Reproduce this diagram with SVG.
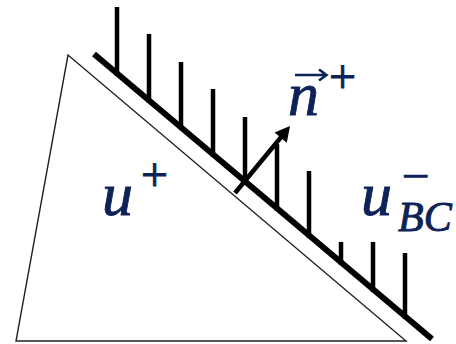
<svg xmlns="http://www.w3.org/2000/svg" width="456" height="344" viewBox="0 0 456 344">
<style>
.tri{fill:#fff;stroke:#222;stroke-width:1.4;stroke-linejoin:miter}
.bc{stroke:#000;stroke-width:6;stroke-linecap:butt}
.tk{stroke:#000;stroke-width:4.5}
.lbl{font-family:"Liberation Serif","Times New Roman",serif;fill:#0d2257;stroke:#0d2257;stroke-width:0.9}
.it{font-style:italic}
.acc{fill:none;stroke:#0d2257;stroke-width:2.6;stroke-linecap:butt;stroke-linejoin:miter}
</style>
<rect width="456" height="344" fill="#fff"/>
<g id="triangle"><polygon class="tri" points="68,55 16,341 406,341"/></g>
<g id="boundary">
<line class="bc" x1="94" y1="54" x2="432" y2="339"/>
<line class="tk" x1="117" y1="7" x2="117" y2="76"/>
<line class="tk" x1="149" y1="34" x2="149" y2="103"/>
<line class="tk" x1="181" y1="62" x2="181" y2="130"/>
<line class="tk" x1="213" y1="89" x2="213" y2="157"/>
<line class="tk" x1="245" y1="117" x2="245" y2="184"/>
<line class="tk" x1="277" y1="144" x2="277" y2="211"/>
<line class="tk" x1="309" y1="171" x2="309" y2="238"/>
<line class="tk" x1="341" y1="198" x2="341" y2="265"/>
<line class="tk" x1="373" y1="226" x2="373" y2="292"/>
<line class="tk" x1="405" y1="253" x2="405" y2="319"/>
</g>
<g id="normal">
<line x1="235" y1="193" x2="282" y2="136" stroke="#000" stroke-width="4.5"/>
<polygon points="290,126 274.5,132.6 286.8,142.7" fill="#000"/>
</g>
<g id="label-uplus">
<text class="lbl"><tspan class="it" x="102" y="215" font-size="62">u</tspan><tspan x="141" y="191" font-size="48">+</tspan></text>
</g>
<g id="label-n">
<path class="acc" d="M295,75 H326 M319,69.5 L326.5,75 L319,80.5"/>
<text class="lbl"><tspan class="it" x="288" y="115" font-size="62">n</tspan><tspan x="329" y="93" font-size="48">+</tspan></text>
</g>
<g id="label-ubc">
<rect x="333" y="168" width="123" height="74" fill="#fff"/>
<text class="lbl"><tspan class="it" x="361" y="215" font-size="62">u</tspan><tspan x="403" y="185.5" font-size="30" textLength="26" lengthAdjust="spacingAndGlyphs" stroke-width="1.6">−</tspan><tspan class="it" x="398" y="231" font-size="42">BC</tspan></text>
</g>
</svg>
